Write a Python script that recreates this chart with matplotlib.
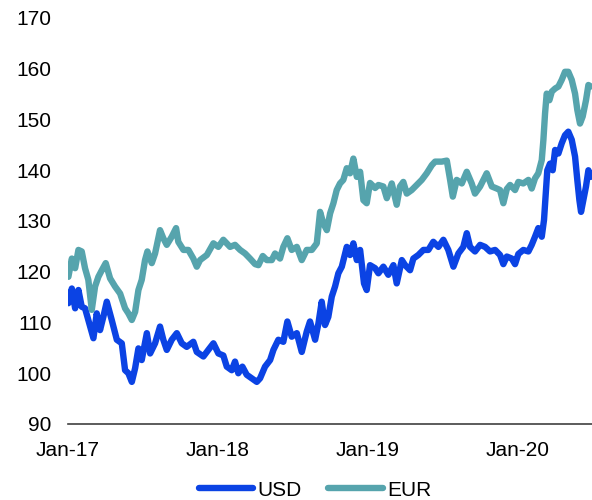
import numpy as np
import matplotlib.pyplot as plt

# index levels; time is in years after Jan 2017
eur_t = [0.002, 0.025, 0.047, 0.069, 0.091, 0.113, 0.135, 0.158, 0.18, 0.202,
         0.225, 0.251, 0.28, 0.313, 0.347, 0.38, 0.402, 0.425, 0.447, 0.469,
         0.491, 0.513, 0.529, 0.558, 0.58, 0.613, 0.635, 0.658, 0.691, 0.72,
         0.735, 0.769, 0.802, 0.835, 0.858, 0.88, 0.925, 0.969, 1.002, 1.035,
         1.08, 1.113, 1.147, 1.18, 1.213, 1.247, 1.269, 1.298, 1.325, 1.358,
         1.38, 1.413, 1.435, 1.462, 1.491, 1.525, 1.558, 1.591, 1.625, 1.658,
         1.68, 1.702, 1.725, 1.747, 1.769, 1.791, 1.813, 1.835, 1.858, 1.88,
         1.902, 1.925, 1.947, 1.969, 1.991, 2.013, 2.047, 2.069, 2.102, 2.125,
         2.158, 2.191, 2.213, 2.235, 2.258, 2.291, 2.325, 2.358, 2.391, 2.425,
         2.447, 2.491, 2.525, 2.547, 2.565, 2.591, 2.625, 2.658, 2.691, 2.713,
         2.747, 2.791, 2.825, 2.858, 2.88, 2.902, 2.925, 2.947, 2.98, 3.002,
         3.035, 3.069, 3.091, 3.113, 3.135, 3.158, 3.169, 3.18, 3.191, 3.209,
         3.225, 3.247, 3.269, 3.291, 3.313, 3.335, 3.358, 3.38, 3.395, 3.413,
         3.431, 3.453, 3.469, 3.485]
eur = [119.0, 122.6, 120.7, 124.3, 124.0, 120.7, 118.4, 112.5, 117.1, 119.0,
       120.3, 121.7, 118.7, 117.1, 115.7, 112.8, 111.8, 110.5, 112.1, 116.4,
       118.4, 122.3, 124.0, 121.7, 123.6, 128.2, 126.6, 125.3, 126.9, 128.6,
       125.9, 124.3, 124.3, 122.6, 121.0, 122.3, 123.3, 125.6, 124.9, 126.3,
       124.9, 125.3, 124.3, 123.6, 122.6, 121.5, 121.3, 123.1, 122.3, 122.3,
       123.6, 122.6, 124.9, 126.6, 124.3, 124.9, 122.3, 124.3, 124.3, 125.6,
       131.8, 129.5, 128.2, 131.5, 133.5, 136.1, 137.4, 138.1, 140.4, 139.4,
       142.3, 138.7, 139.7, 134.1, 133.5, 137.5, 136.5, 137.1, 136.8, 134.5,
       137.4, 133.2, 136.8, 137.7, 135.4, 136.1, 137.1, 138.1, 139.4, 141.0,
       141.7, 141.7, 141.9, 138.1, 134.8, 138.1, 137.4, 139.7, 137.4, 135.4,
       136.8, 139.4, 136.8, 136.4, 136.1, 133.5, 136.3, 137.1, 136.1, 137.7,
       137.4, 138.1, 136.4, 138.4, 139.4, 142.0, 146.0, 151.2, 155.1, 153.8,
       155.5, 156.1, 156.5, 157.8, 159.4, 159.4, 157.8, 155.1, 151.9, 149.2,
       150.6, 153.8, 156.8, 156.5]

usd_t = [0.002, 0.025, 0.047, 0.069, 0.091, 0.113, 0.135, 0.169, 0.191, 0.213,
         0.235, 0.258, 0.291, 0.325, 0.358, 0.38, 0.402, 0.425, 0.447, 0.469,
         0.491, 0.525, 0.547, 0.58, 0.613, 0.635, 0.658, 0.691, 0.725, 0.758,
         0.791, 0.835, 0.858, 0.902, 0.935, 0.969, 1.002, 1.035, 1.058, 1.091,
         1.113, 1.135, 1.162, 1.191, 1.225, 1.258, 1.28, 1.313, 1.347, 1.369,
         1.402, 1.435, 1.462, 1.491, 1.525, 1.558, 1.591, 1.613, 1.647, 1.669,
         1.691, 1.713, 1.735, 1.758, 1.78, 1.802, 1.825, 1.858, 1.88, 1.902,
         1.925, 1.947, 1.973, 1.991, 2.013, 2.047, 2.069, 2.102, 2.135, 2.169,
         2.191, 2.225, 2.247, 2.28, 2.302, 2.335, 2.369, 2.402, 2.435, 2.469,
         2.502, 2.535, 2.569, 2.602, 2.635, 2.658, 2.68, 2.713, 2.747, 2.78,
         2.813, 2.847, 2.88, 2.902, 2.925, 2.958, 2.98, 3.002, 3.035, 3.069,
         3.091, 3.113, 3.135, 3.158, 3.173, 3.185, 3.195, 3.213, 3.231, 3.247,
         3.269, 3.291, 3.313, 3.335, 3.358, 3.38, 3.395, 3.409, 3.42, 3.435,
         3.453, 3.469, 3.485]
usd = [113.8, 116.7, 112.8, 116.4, 113.1, 112.8, 110.5, 106.9, 111.8, 108.5,
       111.1, 114.1, 110.5, 106.6, 105.9, 100.6, 100.0, 98.3, 101.0, 104.9,
       102.6, 107.9, 103.9, 105.9, 109.2, 106.6, 104.6, 106.6, 107.9, 105.9,
       105.2, 106.2, 104.2, 103.3, 104.6, 105.9, 103.9, 103.5, 101.3, 100.6,
       102.3, 100.0, 101.3, 99.7, 99.0, 98.3, 99.0, 101.3, 102.6, 104.6,
       106.6, 106.2, 110.2, 107.2, 107.9, 104.2, 108.2, 110.2, 106.6, 109.8,
       114.1, 109.5, 111.1, 115.1, 117.1, 119.7, 121.0, 124.9, 123.3, 125.6,
       122.3, 124.3, 117.7, 116.4, 121.3, 120.7, 119.7, 121.0, 119.4, 121.3,
       117.7, 122.3, 121.3, 120.3, 122.6, 123.3, 124.3, 124.3, 125.9, 124.9,
       126.3, 124.3, 121.0, 123.6, 124.9, 127.6, 124.9, 124.0, 125.3, 124.9,
       124.0, 124.3, 123.3, 121.5, 123.0, 122.6, 121.5, 123.5, 124.3, 124.0,
       125.3, 126.9, 128.6, 126.9, 130.2, 135.4, 140.0, 141.3, 140.0, 144.0,
       143.3, 145.3, 146.9, 147.6, 146.0, 142.7, 138.1, 134.1, 131.8, 134.1,
       136.8, 140.0, 138.7]

tick_years = [2017, 2018, 2019, 2020]
tick_labels = ["Jan-17", "Jan-18", "Jan-19", "Jan-20"]

plt.rcParams['font.family'] = ['Liberation Sans', 'DejaVu Sans']
plt.rcParams['font.size'] = 15

fig = plt.figure(figsize=(5.92, 5.00), dpi=100)
ax = fig.add_axes([0.115, 0.152, 0.885, 0.812])

ax.plot(2017 + np.array(usd_t), usd, color='#0B43E4', lw=4.6, label='USD',
        solid_joinstyle='round', solid_capstyle='round')
ax.plot(2017 + np.array(eur_t), eur, color='#56A4AD', lw=4.6, label='EUR',
        solid_joinstyle='round', solid_capstyle='round')

ax.set_ylim(90, 170)
ax.set_yticks(np.arange(90, 171, 10))
ax.set_xlim(2017, 2020.493)
ax.set_xticks(tick_years)
ax.set_xticklabels(tick_labels)
ax.tick_params(axis='both', length=0)
ax.tick_params(axis='y', pad=12)
ax.tick_params(axis='x', pad=12)

for side in ['left', 'right', 'top']:
    ax.spines[side].set_visible(False)
ax.spines['bottom'].set_color('#404040')
ax.spines['bottom'].set_linewidth(1.2)

fig.legend(loc='center', bbox_to_anchor=(0.532, 0.02), ncol=2, frameon=False,
           handlelength=2.6, handletextpad=0.2, columnspacing=1.3,
           borderaxespad=0, borderpad=0)

fig.savefig('out.png', dpi=100)
